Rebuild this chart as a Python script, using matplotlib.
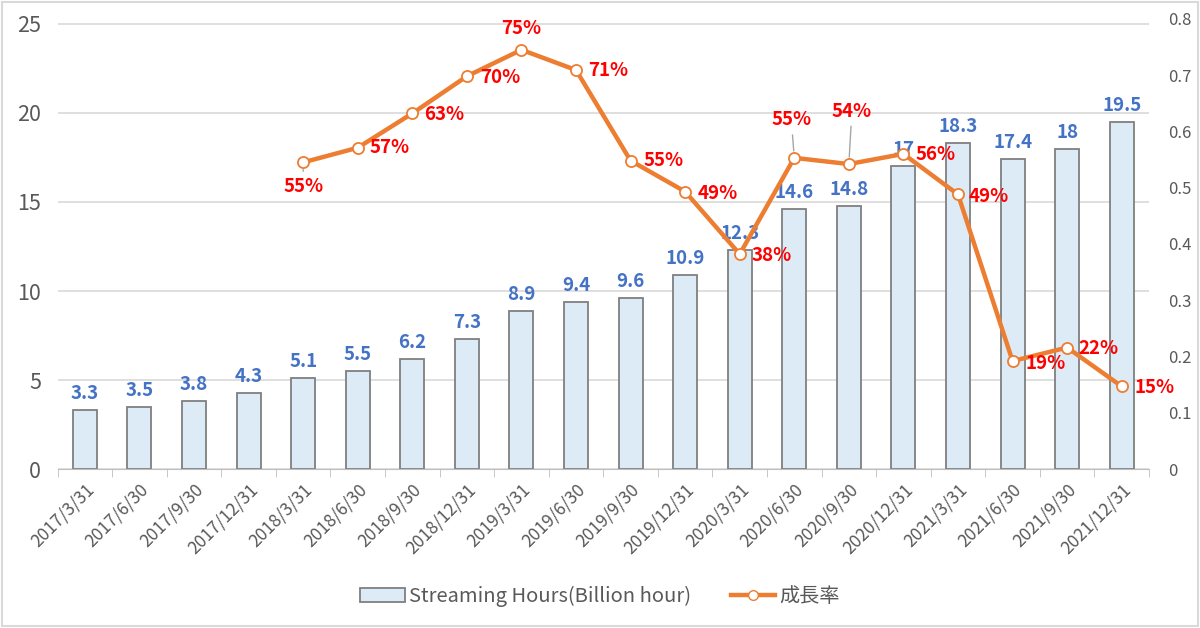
import matplotlib
matplotlib.use('Agg')
import matplotlib.pyplot as plt
from matplotlib.lines import Line2D
from matplotlib.patches import Rectangle
import numpy as np

plt.rcParams['font.family'] = ['Noto Sans CJK JP', 'DejaVu Sans']

quarters = ['2017/3/31', '2017/6/30', '2017/9/30', '2017/12/31',
            '2018/3/31', '2018/6/30', '2018/9/30', '2018/12/31',
            '2019/3/31', '2019/6/30', '2019/9/30', '2019/12/31',
            '2020/3/31', '2020/6/30', '2020/9/30', '2020/12/31',
            '2021/3/31', '2021/6/30', '2021/9/30', '2021/12/31']
hours = [3.3, 3.5, 3.8, 4.3, 5.1, 5.5, 6.2, 7.3, 8.9, 9.4,
         9.6, 10.9, 12.3, 14.6, 14.8, 17, 18.3, 17.4, 18, 19.5]
# growth starts at 2018/3/31 (first four quarters have no value)
growth = [None, None, None, None,
          0.545, 0.571, 0.632, 0.698, 0.745, 0.709, 0.548, 0.493,
          0.382, 0.553, 0.542, 0.560, 0.488, 0.192, 0.216, 0.147]
growth_labels = ['55%', '57%', '63%', '70%', '75%', '71%', '55%', '49%',
                 '38%', '55%', '54%', '56%', '49%', '19%', '22%', '15%']

# label offsets in pixels (dx, dy) and whether a leader line is drawn
label_offsets = [(0, -24), (32, 0), (32, -1), (33, -1), (0, 21), (32, 0),
                 (33, 0), (33, -2), (32, -1), (-3, 38), (3, 53), (32, -1),
                 (31, -2), (33, -2), (31, -1), (33, -1)]
leaders = [True, False, False, False, False, False, False, False,
           False, True, True, False, False, False, False, False]

fig = plt.figure(figsize=(12, 6.28), dpi=100)
ax = fig.add_axes([0.048, 0.253, 0.9095, 0.717])
ax2 = ax.twinx()

x = np.arange(len(quarters))
bar_color = '#DDEBF7'
edge_color = '#7F7F7F'
line_color = '#ED7D31'

ax.bar(x, hours, width=0.44, color=bar_color, edgecolor=edge_color, linewidth=1.3, zorder=2)
for xi, h in zip(x, hours):
    ax.annotate(f'{h:g}', (xi, h), xytext=(0, 7), textcoords='offset pixels',
                ha='center', va='bottom', color='#4472C4', fontsize=13.5, fontweight='bold')

gx = [xi for xi, g in zip(x, growth) if g is not None]
gy = [g for g in growth if g is not None]
ax2.plot(gx, gy, color=line_color, linewidth=3.2, marker='o', markersize=8,
         markerfacecolor='white', markeredgecolor=line_color, markeredgewidth=1.3, zorder=3)
for xi, yi, lab, off, lead in zip(gx, gy, growth_labels, label_offsets, leaders):
    arrow = dict(arrowstyle='-', color='#A6A6A6', lw=1, shrinkA=2, shrinkB=5) if lead else None
    ax2.annotate(lab, (xi, yi), xytext=off, textcoords='offset pixels',
                 ha='center', va='center', color='#FF0000', fontsize=13.5, fontweight='bold',
                 arrowprops=arrow)

ax.set_xlim(-0.5, len(quarters) - 0.5)
ax.set_ylim(0, 25.28)
ax2.set_ylim(0, 0.8)
ax.set_yticks([0, 5, 10, 15, 20, 25])
ax2.set_yticks([0, 0.1, 0.2, 0.3, 0.4, 0.5, 0.6, 0.7, 0.8])
ax2.set_yticklabels(['0', '0.1', '0.2', '0.3', '0.4', '0.5', '0.6', '0.7', '0.8'])

ax.set_xticks(x)
ax.set_xticklabels(quarters, rotation=45, ha='right', rotation_mode='anchor')
ax.set_xticks(np.arange(-0.5, len(quarters), 1), minor=True)
ax.tick_params(axis='x', which='major', length=0, labelsize=12.5, labelcolor='#595959', pad=8)
ax.tick_params(axis='x', which='minor', length=6, color='#BFBFBF')
ax.tick_params(axis='y', length=0, labelsize=15.5, labelcolor='#595959', pad=12)
ax2.tick_params(axis='y', length=0, labelsize=12, labelcolor='#595959', pad=14)

ax.yaxis.grid(True, color='#D9D9D9', linewidth=1.2, zorder=0)
ax.set_axisbelow(True)
for sp in ['top', 'left', 'right']:
    ax.spines[sp].set_visible(False)
    ax2.spines[sp].set_visible(False)
ax2.spines['bottom'].set_visible(False)
ax.spines['bottom'].set_color('#BFBFBF')

handles = [Rectangle((0, 0), 1, 1, facecolor=bar_color, edgecolor=edge_color, linewidth=1.3),
           Line2D([0], [0], color=line_color, linewidth=3.2, marker='o', markersize=7,
                  markerfacecolor='white', markeredgecolor=line_color)]
fig.legend(handles, ['Streaming Hours(Billion hour)', '成長率'], loc='center',
           bbox_to_anchor=(0.5, 0.05), ncol=2, frameon=False, fontsize=14.5,
           labelcolor='#595959', handlelength=2.2, columnspacing=2.0, handletextpad=0.2)

fig.add_artist(Rectangle((0.002, 0.003), 0.996, 0.994, transform=fig.transFigure,
                         fill=False, edgecolor='#D9D9D9', linewidth=1.5))

fig.savefig('out.png', dpi=100)
